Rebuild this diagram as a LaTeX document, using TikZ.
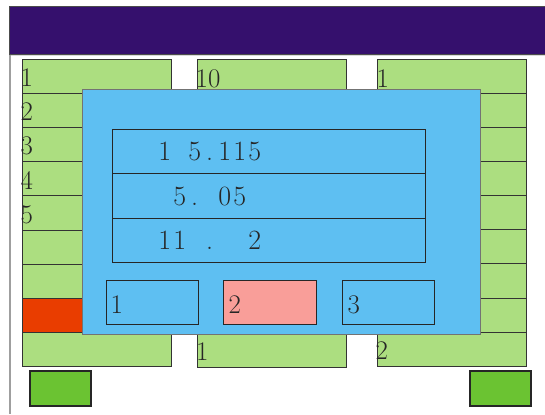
\documentclass[tikz,border=0pt]{standalone}
\usepackage{xcolor}
\definecolor{hdr}{HTML}{35106D}
\definecolor{cellgreen}{HTML}{ACDE80}
\definecolor{cellred}{HTML}{E93D00}
\definecolor{panelblue}{HTML}{5EBFF2}
\definecolor{btnpink}{HTML}{F99E99}
\definecolor{btngreen}{HTML}{6BC332}
\newcommand\cbx[1]{\makebox[15bp][c]{#1}}
\tikzset{
  box/.style={anchor=north west, inner sep=0pt, outer sep=0pt},
  cell/.style={box, draw=black!80, line width=0.9bp, fill=cellgreen, minimum width=149bp, minimum height=34.15bp},
  lbl/.style={anchor=base west, inner sep=0pt, font=\fontsize{27}{27}\selectfont, text=black!85},
  bigtxt/.style={anchor=base west, inner sep=0pt, font=\fontsize{28}{28}\selectfont, text=black!85},
  valbox/.style={box, draw=black!85, line width=1bp, minimum width=313bp, minimum height=44.6bp},
  btn/.style={box, draw=black!85, line width=1bp, fill=panelblue, minimum width=92.4bp, minimum height=44.3bp},
  gbtn/.style={box, draw=black!85, line width=2bp, fill=btngreen, minimum width=61bp, minimum height=35bp}
}
\begin{document}
\begin{tikzpicture}[x=1bp,y=-1bp]
\useasboundingbox (0,0) rectangle (545,414);
% header bar
\node[box, draw=black!70, line width=0.8bp, fill=hdr, minimum width=545bp, minimum height=47.5bp] (header) at (9,6.5) {};
\draw[black!15, line width=1.2bp] (10,55.5) -- (545,55.5);
\draw[gray!75, line width=2bp] (10,54.5) -- (10,414);
% columns
\foreach \i in {0,...,8} {
  \node[cell] (L\i) at (22,{59.3+34.15*\i}) {};
  \node[cell] (M\i) at (197.3,{59.8+34.15*\i}) {};
  \node[cell] (R\i) at (377,{59.0+34.15*\i}) {};
}
\node[cell, fill=cellred] (L7r) at (22,{59.3+34.15*7}) {};
% left labels
\node[lbl] (l1) at (20.5,86.7) {1};
\node[lbl] (l2) at (20.5,120.6) {2};
\node[lbl] (l3) at (20.5,154.8) {3};
\node[lbl] (l4) at (20.5,189.0) {4};
\node[lbl] (l5) at (20.5,223.1) {5};
\node[lbl] (m1) at (195.5,87.7) {10};
\node[lbl] (m9) at (196,360.7) {1};
\node[lbl] (r1) at (376.5,87.0) {1};
\node[lbl] (r9) at (375.5,359.5) {2};
% overlay panel
\node[box, draw=black!55, line width=0.9bp, fill=panelblue, minimum width=398bp, minimum height=245bp] (panel) at (82,89) {};
\node[valbox] (v1) at (112,129) {};
\node[valbox] (v2) at (112,173.6) {};
\node[valbox] (v3) at (112,218.2) {};
\node[bigtxt] (t1) at (157,160.7) {\cbx{1}\cbx{}\cbx{5}\cbx{.}\cbx{1}\cbx{1}\cbx{5}};
\node[bigtxt] (t2) at (157,205) {\cbx{}\cbx{5}\cbx{.}\cbx{}\cbx{0}\cbx{5}};
\node[bigtxt] (t3) at (157,249) {\cbx{1}\cbx{1}\cbx{}\cbx{.}\cbx{}\cbx{}\cbx{2}};
% buttons
\node[btn] (b1) at (106.3,280) {};
\node[btn, fill=btnpink] (b2) at (223.7,280) {};
\node[btn] (b3) at (342.3,280) {};
\node[lbl] (b1t) at (110.3,313.3) {1};
\node[lbl] (b2t) at (228.3,313.3) {2};
\node[lbl] (b3t) at (347.3,313.3) {3};
% green buttons
\node[gbtn] (g1) at (30.2,371) {};
\node[gbtn] (g2) at (469.5,371) {};
\end{tikzpicture}
\end{document}
